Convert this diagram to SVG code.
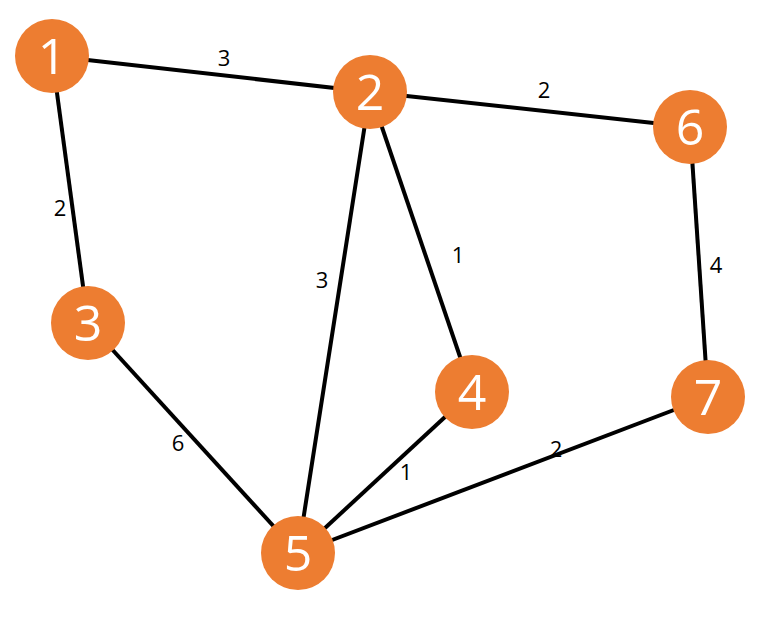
<svg xmlns="http://www.w3.org/2000/svg" width="760" height="624" viewBox="0 0 760 624">
<style>
.n{fill:#ED7D31}
.t{font-family:"Open Sans","Liberation Sans",sans-serif;font-size:50px;fill:#fff;text-anchor:middle}
.l{font-family:"Open Sans","Liberation Sans",sans-serif;font-size:22px;fill:#000;text-anchor:middle}
#edges line{stroke:#000;stroke-width:4}
</style>
<rect width="760" height="624" fill="#fff"/>
<g id="edges">
<line x1="52" y1="56" x2="370" y2="92"/>
<line x1="370" y1="92" x2="690" y2="127"/>
<line x1="52" y1="56" x2="88" y2="323"/>
<line x1="370" y1="92" x2="298" y2="553"/>
<line x1="370" y1="92" x2="472" y2="392"/>
<line x1="690" y1="127" x2="708" y2="397"/>
<line x1="88" y1="323" x2="298" y2="553"/>
<line x1="472" y1="392" x2="298" y2="553"/>
<line x1="708" y1="397" x2="298" y2="553"/>
<text class="l" x="224" y="66">3</text>
<text class="l" x="544" y="98">2</text>
<text class="l" x="60" y="216">2</text>
<text class="l" x="322" y="288">3</text>
<text class="l" x="458" y="263">1</text>
<text class="l" x="716" y="273">4</text>
<text class="l" x="178" y="451">6</text>
<text class="l" x="406" y="480">1</text>
<text class="l" x="556" y="457">2</text>
</g>
<g id="n1"><circle class="n" cx="52" cy="56" r="37"/><text class="t" x="52" y="74">1</text></g>
<g id="n2"><circle class="n" cx="370" cy="92" r="37"/><text class="t" x="370" y="110">2</text></g>
<g id="n6"><circle class="n" cx="690" cy="127" r="37"/><text class="t" x="690" y="145">6</text></g>
<g id="n3"><circle class="n" cx="88" cy="323" r="37"/><text class="t" x="88" y="341">3</text></g>
<g id="n4"><circle class="n" cx="472" cy="392" r="37"/><text class="t" x="472" y="410">4</text></g>
<g id="n7"><circle class="n" cx="708" cy="397" r="37"/><text class="t" x="708" y="415">7</text></g>
<g id="n5"><circle class="n" cx="298" cy="553" r="37"/><text class="t" x="298" y="571">5</text></g>
</svg>
